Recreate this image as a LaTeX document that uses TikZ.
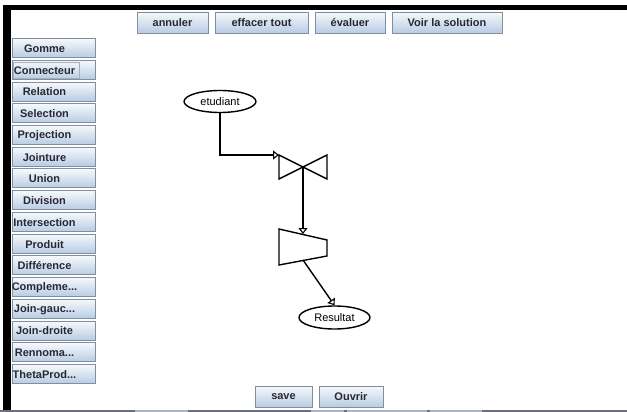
\documentclass[tikz,border=0pt]{standalone}
\usepackage{fontspec}
\setmainfont{Liberation Sans}
\usetikzlibrary{arrows.meta,shapes.geometric}

\definecolor{btntop}{RGB}{246,249,252}
\definecolor{btnbot}{RGB}{184,204,227}
\definecolor{btnline}{RGB}{128,142,158}
\definecolor{btnink}{RGB}{40,40,52}
\definecolor{barbot}{RGB}{108,110,126}
\definecolor{barlite}{RGB}{176,180,192}
\newcommand{\cutdots}{...}

\begin{document}
\begin{tikzpicture}[
  x=1pt, y=-1pt,
  font=\fontsize{11}{13}\selectfont,
  btn/.style={rectangle, draw=btnline, line width=0.9pt, top color=btntop, bottom color=btnbot,
    inner sep=0pt, minimum height=21pt, text=btnink, font=\fontsize{11}{13}\selectfont\bfseries},
  lbtn/.style={btn, minimum width=83pt, minimum height=19pt},
  btntext/.style={inner sep=0pt, text=btnink, font=\fontsize{11}{13}\selectfont\bfseries},
  ent/.style={ellipse, draw=black, line width=1.4pt, fill=white, inner sep=0pt},
  opshape/.style={draw=black, line width=1.4pt, line join=miter},
  conn/.style={-{Triangle[open, fill=white, length=6pt, width=9pt, line width=1.1pt]}, draw=black, line width=1.4pt}
]
  \useasboundingbox (0,0) rectangle (627,412);
  \fill[white] (0,0) rectangle (627,412);

  % window frame
  \fill[black] (3,5) rectangle (627,10);
  \fill[black] (3,5) rectangle (11,410);
  \fill[barbot] (0,409.5) rectangle (627,412);
  \fill[barlite] (135,409.5) rectangle (188,412);
  \fill[barlite] (311,409.5) rectangle (344,412);
  \fill[barlite] (347,409.5) rectangle (427,412);
  \fill[barlite] (430,409.5) rectangle (482,412);

  % top toolbar
  \node[btn, minimum width=71pt] (annuler) at (172.5,22.5) {annuler};
  \node[btn, minimum width=93pt] (effacer) at (261.5,22.5) {effacer tout};
  \node[btn, minimum width=70pt] (evaluer) at (350,22.5) {évaluer};
  \node[btn, minimum width=110pt] (solution) at (447,22.5) {Voir la solution};

  % operator palette
  \foreach \lbl [count=\i] in {Gomme, Connecteur, Relation, Selection, Projection, Jointure,
      Union, Division, Intersection, Produit, Différence, Compleme\cutdots, Join-gauc\cutdots,
      Join-droite, Rennoma\cutdots, ThetaProd\cutdots} {
    \node[lbtn] (lb\i) at (53.5,{48+21.73*(\i-1)}) {};
    \node[btntext] (lt\i) at (44.5,{48.5+21.73*(\i-1)}) {\lbl};
  }
  \draw[btnline!70, line width=0.6pt] (13,62) rectangle (79,78);

  % bottom buttons
  \node[btn, minimum width=57pt] (save) at (283.5,396.5) {save};
  \node[btn, minimum width=64pt] (ouvrir) at (351,396.5) {Ouvrir};

  % relation schema
  \node[ent, minimum width=72pt, minimum height=22pt] (etu) at (220,101.5) {etudiant};
  \node[ent, minimum width=71pt, minimum height=23pt] (res) at (334.5,317.5) {Resultat};

  \coordinate (jc) at (303,167);
  \coordinate (jin) at (279,155);
  \draw[opshape] (279,155) -- (jc) -- (279,179) -- cycle;
  \draw[opshape] (327,155) -- (jc) -- (327,179) -- cycle;

  \coordinate (pin) at (303,234);
  \coordinate (pout) at (303,260);
  \draw[opshape] (279,229) -- (327,240) -- (327,256) -- (279,265) -- cycle;

  \draw[conn] (etu.south) |- (jin);
  \draw[conn] (jc) -- (pin);
  \draw[conn] (pout) -- (res.north);
\end{tikzpicture}
\end{document}
